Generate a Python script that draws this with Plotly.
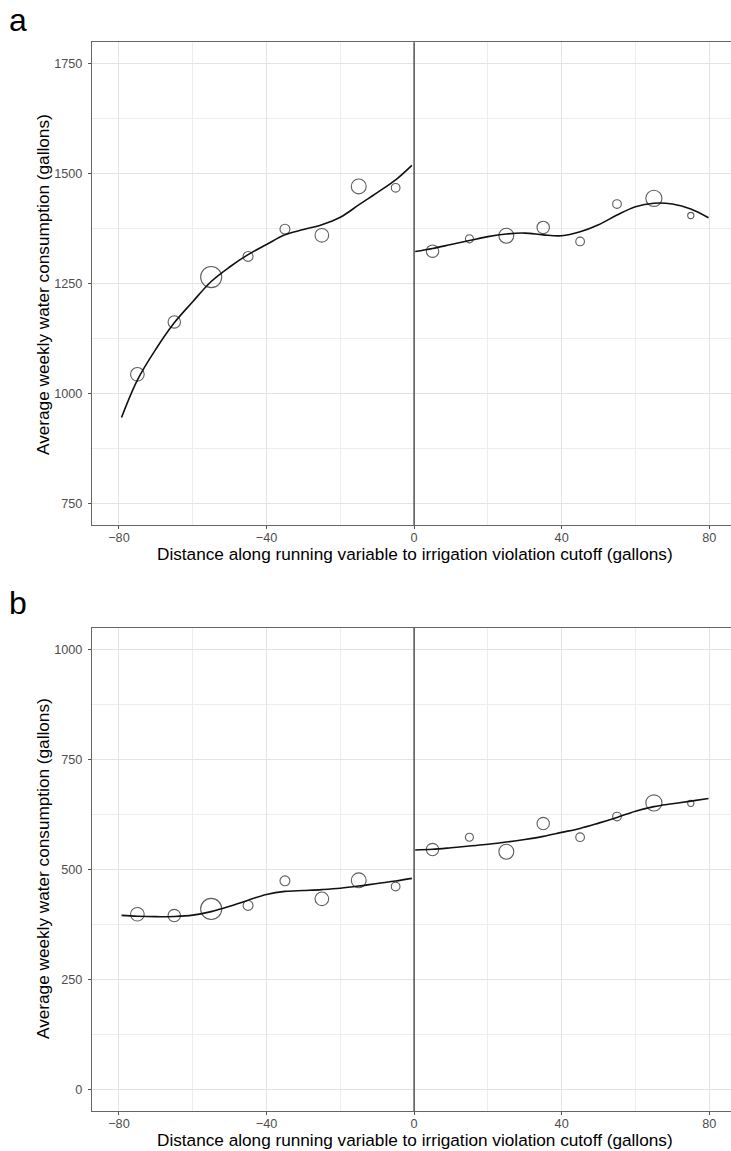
import plotly.graph_objects as go

# ---- data ----
bin_x = [-75, -65, -55, -45, -35, -25, -15, -5, 5, 15, 25, 35, 45, 55, 65, 75]
bin_count = [121, 100, 289, 64, 64, 121, 144, 49, 100, 42, 144, 100, 49, 49, 169, 25]

mean_a = [1043, 1162, 1264, 1311, 1373, 1359, 1470, 1467,
          1323, 1351, 1358, 1377, 1345, 1430, 1443, 1404]
mean_b = [398, 395, 410, 418, 474, 433, 475, 461,
          545, 573, 540, 604, 573, 620, 651, 650]

fit_x_left = [-79.3, -75, -70, -65, -60, -55, -50, -45, -40, -35, -30, -25, -20, -15, -10, -5, -0.6]
fit_a_left = [945, 1030, 1100, 1160, 1208, 1254, 1287, 1315, 1338, 1360, 1372, 1383, 1400, 1428, 1456, 1485, 1518]
fit_b_left = [395.5, 393.5, 392.5, 393, 396, 404, 416, 430, 443, 450, 452, 454, 457, 462, 468, 473.5, 479.5]

fit_x_right = [0.3, 5, 10, 15, 20, 25, 30, 35, 40, 45, 50, 55, 60, 65, 70, 75, 79.8]
fit_a_right = [1322, 1329, 1338, 1347, 1356, 1362, 1364, 1360, 1358, 1367, 1383, 1405, 1424, 1432, 1430, 1419, 1399]
fit_b_right = [544, 545.5, 549, 553, 557, 562, 568, 575, 584, 593, 605, 618, 632, 642.5, 649, 655, 661]

x_ticks = [-80, -40, 0, 40, 80]
y_ticks_a = [750, 1000, 1250, 1500, 1750]
y_ticks_b = [0, 250, 500, 750, 1000]

x_title = "Distance along running variable to irrigation violation cutoff (gallons)"
y_title = "Average weekly water consumption (gallons)"

# ---- figure ----
W, H = 731, 1151
fig = go.Figure()

def add_panel(fig, means, fit_l, fit_r, xa, ya):
    fig.add_trace(go.Scatter(
        x=bin_x, y=means, mode="markers", xaxis=xa, yaxis=ya,
        marker=dict(size=bin_count, sizemode="area", sizeref=1.3,
                    symbol="circle-open", color="#1a1a1a",
                    line=dict(width=1.1, color="#1a1a1a")),
        showlegend=False, hoverinfo="x+y"))
    for fx, fy in ((fit_x_left, fit_l), (fit_x_right, fit_r)):
        fig.add_trace(go.Scatter(
            x=fx, y=fy, mode="lines", xaxis=xa, yaxis=ya,
            line=dict(color="#111111", width=1.6, shape="spline", smoothing=1.0),
            showlegend=False, hoverinfo="skip"))

add_panel(fig, mean_a, fit_a_left, fit_a_right, "x", "y")
add_panel(fig, mean_b, fit_b_left, fit_b_right, "x2", "y2")

def px_x(p):
    return p / W

def px_y(p):
    return 1 - p / H

grid_major = "#E3E3E3"
grid_minor = "#EEEEEE"
tickfont = dict(family="Liberation Sans, Arial, sans-serif", size=12.7, color="#4D4D4D")

xcommon = dict(range=[-87.3, 85.9], tickvals=x_ticks, showgrid=True,
               gridcolor=grid_major, gridwidth=1,
               minor=dict(dtick=20, tick0=0, showgrid=True, gridcolor=grid_minor, gridwidth=1, ticks=""),
               zeroline=False, showline=True, linecolor="#666666", linewidth=1.2,
               mirror=True, ticks="outside", ticklen=3, tickcolor="#555555",
               ticklabelstandoff=-2,
               tickfont=tickfont, domain=[px_x(92), 1.0], fixedrange=True)

ycommon = dict(showgrid=True, gridcolor=grid_major, gridwidth=1,
               zeroline=False, showline=True, linecolor="#666666", linewidth=1.2,
               mirror=False, ticks="outside", ticklen=3, tickcolor="#555555",
               ticklabelstandoff=3,
               tickfont=tickfont, fixedrange=True)

fig.update_layout(
    width=W, height=H,
    margin=dict(l=0, r=0, t=0, b=0),
    paper_bgcolor="white", plot_bgcolor="white",
    xaxis=dict(**xcommon, anchor="y"),
    yaxis=dict(**ycommon, range=[700.5, 1797.7], tickvals=y_ticks_a,
               minor=dict(dtick=125, tick0=0, showgrid=True, gridcolor=grid_minor, gridwidth=1, ticks=""),
               domain=[px_y(525), px_y(42.3)], anchor="x"),
    xaxis2=dict(**xcommon, anchor="y2"),
    yaxis2=dict(**ycommon, range=[-49, 1049], tickvals=y_ticks_b,
                minor=dict(dtick=125, tick0=0, showgrid=True, gridcolor=grid_minor, gridwidth=1, ticks=""),
                domain=[px_y(1111), px_y(627.7)], anchor="x2"),
)

# cutoff lines
for xr, yr in (("x", "y domain"), ("x2", "y2 domain")):
    fig.add_shape(type="line", xref=xr, yref=yr, x0=0, x1=0, y0=0, y1=1,
                  line=dict(color="#3a3a3a", width=1.3), layer="above")

titlefont = dict(family="Liberation Sans, Arial, sans-serif", size=17.2, color="#000000")
for ypix in (554, 1140):
    fig.add_annotation(text=x_title, x=px_x(415), y=px_y(ypix), xref="paper", yref="paper",
                       xanchor="center", yanchor="middle", showarrow=False, font=titlefont)
for ypix in (285, 869):
    fig.add_annotation(text=y_title, x=px_x(43), y=px_y(ypix), xref="paper", yref="paper",
                       xanchor="center", yanchor="middle", textangle=-90, showarrow=False, font=titlefont)

labfont = dict(family="Liberation Sans, Arial, sans-serif", size=32, color="#000000")
for lab, ypix in (("a", 0), ("b", 583)):
    fig.add_annotation(text=lab, x=px_x(7), y=px_y(ypix), xref="paper", yref="paper",
                       xanchor="left", yanchor="top", showarrow=False, font=labfont)

fig.write_html("out.html", config={"displayModeBar": False},
               post_script="document.body.style.margin='0';document.body.style.overflow='hidden';")
